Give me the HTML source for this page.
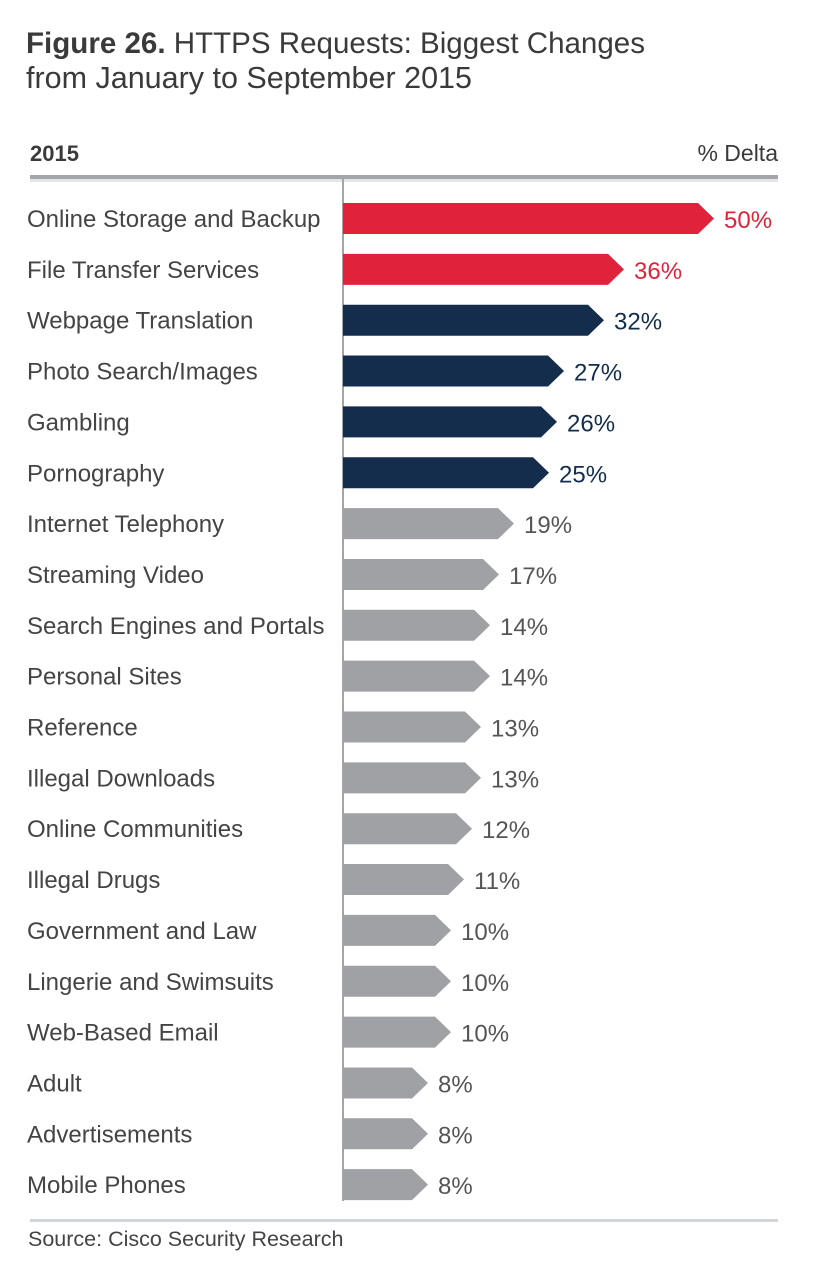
<!DOCTYPE html>
<html><head><meta charset="utf-8"><style>
body{margin:0;background:#fff;width:834px;height:1266px;overflow:hidden;font-family:"Liberation Sans",sans-serif;}
</style></head><body>
<svg width="834" height="1266" xmlns="http://www.w3.org/2000/svg" font-family="Liberation Sans, sans-serif">
<text x="26" y="53" font-size="29.5" fill="#3a3a3a" textLength="619" lengthAdjust="spacingAndGlyphs"><tspan font-weight="bold">Figure 26.</tspan> HTTPS Requests: Biggest Changes</text>
<text x="26" y="88" font-size="30.5" fill="#3a3a3a" textLength="446" lengthAdjust="spacingAndGlyphs">from January to September 2015</text>
<text x="30" y="161" font-size="22" font-weight="bold" fill="#3a3a3a">2015</text>
<text x="778" y="161" font-size="23" fill="#3a3a3a" text-anchor="end">% Delta</text>
<rect x="30" y="175" width="748" height="4" fill="#a4a5a8"/>
<rect x="30" y="179" width="748" height="3" fill="#e4e5e6"/>
<rect x="342" y="179" width="2" height="1022" fill="#a4a5a8"/>
<rect x="30" y="1219" width="748" height="3" fill="#d0d5d8"/>
<text x="28" y="1246" font-size="21.5" fill="#444">Source: Cisco Security Research</text>
<g id="bars" font-size="24"></g>
</svg>
<script>
var d=[["Online Storage and Backup",50,714,"#e0223a"],["File Transfer Services",36,624,"#e0223a"],["Webpage Translation",32,604,"#142d4c"],["Photo Search/Images",27,564,"#142d4c"],["Gambling",26,557,"#142d4c"],["Pornography",25,549,"#142d4c"],["Internet Telephony",19,514,"#a0a1a4"],["Streaming Video",17,499,"#a0a1a4"],["Search Engines and Portals",14,490,"#a0a1a4"],["Personal Sites",14,490,"#a0a1a4"],["Reference",13,481,"#a0a1a4"],["Illegal Downloads",13,481,"#a0a1a4"],["Online Communities",12,472,"#a0a1a4"],["Illegal Drugs",11,464,"#a0a1a4"],["Government and Law",10,451,"#a0a1a4"],["Lingerie and Swimsuits",10,451,"#a0a1a4"],["Web-Based Email",10,451,"#a0a1a4"],["Adult",8,428,"#a0a1a4"],["Advertisements",8,428,"#a0a1a4"],["Mobile Phones",8,428,"#a0a1a4"]];
var g=document.getElementById('bars'),s='';
d.forEach(function(r,i){var y=203+i*50.85,h=31,t=r[2],f=t-16;
var vc=r[3]=="#a0a1a4"?"#555":r[3];
s+='<text x="27" y="'+(y+24)+'" fill="#444">'+r[0]+'</text>';
s+='<polygon points="343,'+y+' '+f+','+y+' '+t+','+(y+h/2)+' '+f+','+(y+h)+' 343,'+(y+h)+'" fill="'+r[3]+'"/>';
s+='<text x="'+(t+10)+'" y="'+(y+25)+'" fill="'+vc+'">'+r[1]+'%</text>';});
g.innerHTML=s;
</script>
</body></html>
